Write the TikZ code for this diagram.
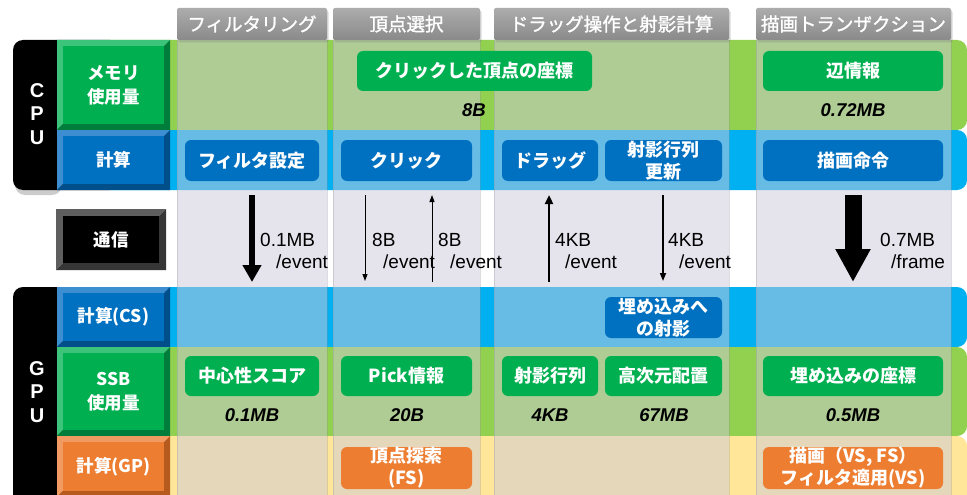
\documentclass[tikz,border=0pt]{standalone}
\usepackage{fontspec}
\setmainfont{Liberation Sans}
\newfontfamily\jp{Noto Sans CJK JP}
\newfontfamily\jpm[FakeBold=1.4]{Noto Sans CJK JP}
\usetikzlibrary{arrows.meta,shadows}
\definecolor{cgreen}{HTML}{00B050}
\definecolor{cgreenL}{HTML}{3CC47A}
\definecolor{cgreenD}{HTML}{007D3A}
\definecolor{cblue}{HTML}{0070C0}
\definecolor{cblueL}{HTML}{3C8ED0}
\definecolor{cblueD}{HTML}{004E8A}
\definecolor{corange}{HTML}{ED7D31}
\definecolor{corangeL}{HTML}{F19B62}
\definecolor{corangeD}{HTML}{B65A1E}
\definecolor{cblack}{HTML}{000000}
\definecolor{cblackL}{HTML}{5E5E5E}
\definecolor{cblackD}{HTML}{363636}
\definecolor{bgreen}{HTML}{92D050}
\definecolor{bblue}{HTML}{00B0F0}
\definecolor{byellow}{HTML}{FFE699}
\definecolor{colov}{RGB}{205,201,218}
\definecolor{tabtop}{RGB}{172,172,172}
\definecolor{tabbot}{RGB}{138,138,138}
\tikzset{
  labface/.style={inner sep=0pt, text=white, align=center, font=\jp\bfseries\fontsize{17.5}{24}\selectfont},
  cbox/.style={rounded corners=6pt, inner sep=0pt, align=center, text=white, font=\jp\bfseries\fontsize{18}{22}\selectfont},
  tabn/.style={top color=tabtop, bottom color=tabbot, rounded corners=2pt, text=white,
    font=\jpm\fontsize{18.5}{20}\selectfont, minimum height=32pt, inner sep=0pt,
    drop shadow={shadow xshift=1.5pt, shadow yshift=-2.5pt, opacity=0.3}},
  num/.style={inner sep=0pt, font=\bfseries\itshape\fontsize{18.5}{20}\selectfont},
  lab/.style={inner sep=0pt, anchor=west, align=left, font=\fontsize{19}{22}\selectfont},
  letters/.style={inner sep=0pt, align=center, text=white, font=\bfseries\fontsize{20}{23.5}\selectfont},
  colbox/.style={fill=colov, fill opacity=0.5},
  colline/.style={draw=colov!70!black, draw opacity=0.3, line width=0.8pt},
}
% name, x1,y1,x2,y2, colour prefix, text, bevel
\newcommand\bevelbox[8]{%
  \fill[#6L] (#2,#3) -- (#4,#3) -- ({#4-#8},{#3+#8}) -- ({#2+#8},{#3+#8}) -- ({#2+#8},{#5-#8}) -- (#2,#5) -- cycle;
  \fill[#6D] (#4,#3) -- (#4,#5) -- (#2,#5) -- ({#2+#8},{#5-#8}) -- ({#4-#8},{#5-#8}) -- ({#4-#8},{#3+#8}) -- cycle;
  \node[labface, fill=#6, minimum width={(#4-#2-2*#8)*1pt}, minimum height={(#5-#3-2*#8)*1pt}] (#1) at ({(#2+#4)/2},{(#3+#5)/2}) {#7};
}
% name, colour, x1,y1,x2,y2, text
\newcommand\cbx[7]{%
  \node[cbox, fill=#2, minimum width={(#5-#3)*1pt}, minimum height={(#6-#4)*1pt}] (#1) at ({(#3+#5)/2},{(#4+#6)/2}) {#7};
}
\begin{document}
\begin{tikzpicture}[x=1pt,y=-1pt]
\useasboundingbox (0,0) rectangle (967,495);
\fill[white] (0,0) rectangle (967,495);
% bands
\fill[bgreen, rounded corners=10pt] (100,40) rectangle (967,130);
\fill[bblue, rounded corners=10pt] (100,130) rectangle (967,190);
\fill[bblue, rounded corners=10pt] (100,287) rectangle (967,347);
\fill[bgreen, rounded corners=10pt] (100,347) rectangle (967,436);
\fill[byellow, rounded corners=10pt] (100,436) rectangle (967,520);
% black side boxes
\fill[black, opacity=0.2, rounded corners=10pt] (15,43) rectangle (62,195);
\fill[black, rounded corners=10pt] (13,40) rectangle (120,190);
\fill[black, rounded corners=10pt] (13,287) rectangle (120,520);
\node[letters] (cpu) at (37,114) {C\\P\\U};
\node[letters] (gpu) at (37,392) {G\\P\\U};
% columns
\foreach \a/\b in {177/327, 333/480, 494/729, 756/951} {
  \fill[colbox] (\a,40) rectangle (\b,500);
  \draw[colline] (\a,40) -- (\a,500) (\b,40) -- (\b,500);
}
% tabs
\node[tabn, minimum width=150pt] (t1) at (252,24) {フィルタリング};
\node[tabn, minimum width=147pt] (t2) at (406.5,24) {頂点選択};
\node[tabn, minimum width=235pt] (t3) at (611.5,24) {ドラッグ操作と射影計算};
\node[tabn, minimum width=195pt] (t4) at (853.5,24) {描画トランザクション};
% row labels
\bevelbox{mem}{57}{40}{170}{130}{cgreen}{メモリ\\使用量}{6}
\bevelbox{calc}{57}{130}{170}{190}{cblue}{計算}{6}
\bevelbox{comm}{56}{209}{166}{270}{cblack}{通信}{7}
\bevelbox{cs}{57}{287}{170}{347}{cblue}{計算(CS)}{6}
\bevelbox{ssb}{57}{347}{170}{436}{cgreen}{SSB\\使用量}{6}
\bevelbox{gp}{57}{436}{170}{497}{corange}{計算(GP)}{6}
% CPU memory
\cbx{n1}{cgreen}{357}{51}{592}{91}{クリックした頂点の座標}
\cbx{n2}{cgreen}{763}{51}{943}{91}{辺情報}
\node[num] (m1) at (474,110) {8B};
\node[num] (m2) at (853,110) {0.72MB};
% CPU compute
\cbx{n3}{cblue}{185}{140}{319}{181}{フィルタ設定}
\cbx{n4}{cblue}{341}{140}{472}{181}{クリック}
\cbx{n5}{cblue}{502}{140}{598}{181}{ドラッグ}
\cbx{n6}{cblue}{605}{140}{722}{181}{射影行列\\更新}
\cbx{n7}{cblue}{763}{140}{943}{181}{描画命令}
% GPU compute CS
\cbx{n8}{cblue}{605}{297}{722}{338}{埋め込みへ\\の射影}
% SSB
\cbx{n9}{cgreen}{185}{356}{319}{396}{中心性スコア}
\cbx{n10}{cgreen}{341}{356}{472}{396}{Pick情報}
\cbx{n11}{cgreen}{502}{356}{598}{396}{射影行列}
\cbx{n12}{cgreen}{605}{356}{722}{396}{高次元配置}
\cbx{n13}{cgreen}{763}{356}{943}{396}{埋め込みの座標}
\node[num] (s1) at (252,415) {0.1MB};
\node[num] (s2) at (407,415) {20B};
\node[num] (s3) at (550,415) {4KB};
\node[num] (s4) at (664,415) {67MB};
\node[num] (s5) at (853,415) {0.5MB};
% GP
\cbx{n14}{corange}{341}{447}{472}{489}{頂点探索\\(FS)}
\cbx{n15}{corange}{763}{447}{943}{489}{描画（VS, FS）\\フィルタ適用(VS)}
% communication arrows
\coordinate (a1s) at (252,195); \coordinate (a1e) at (252,282);
\coordinate (a2s) at (365,195); \coordinate (a2e) at (365,281);
\coordinate (a3s) at (432,282); \coordinate (a3e) at (432,195);
\coordinate (a4s) at (549,282); \coordinate (a4e) at (549,195);
\coordinate (a5s) at (663,195); \coordinate (a5e) at (663,281);
\coordinate (a6s) at (853,195); \coordinate (a6e) at (853,282);
\draw[line width=6pt, -{Triangle[width=18pt,length=17pt]}] (a1s) -- (a1e);
\draw[line width=1pt, -{Triangle[width=5pt,length=7pt]}] (a2s) -- (a2e);
\draw[line width=1pt, -{Triangle[width=5pt,length=7pt]}] (a3s) -- (a3e);
\draw[line width=2.5pt, -{Triangle[width=8pt,length=9pt]}] (a4s) -- (a4e);
\draw[line width=1.6pt, -{Triangle[width=6pt,length=8pt]}] (a5s) -- (a5e);
\draw[line width=17pt, -{Triangle[width=33pt,length=33pt]}] (a6s) -- (a6e);
\node[lab] (l1) at (260,251) {0.1MB\\\hspace*{16pt}/event};
\node[lab] (l2) at (372,251) {8B\\\hspace*{11pt}/event};
\node[lab] (l3) at (438,251) {8B\\\hspace*{12pt}/event};
\node[lab] (l4) at (555,251) {4KB\\\hspace*{10pt}/event};
\node[lab] (l5) at (668,251) {4KB\\\hspace*{11pt}/event};
\node[lab] (l6) at (880,251) {0.7MB\\\hspace*{11pt}/frame};
\end{tikzpicture}
\end{document}
